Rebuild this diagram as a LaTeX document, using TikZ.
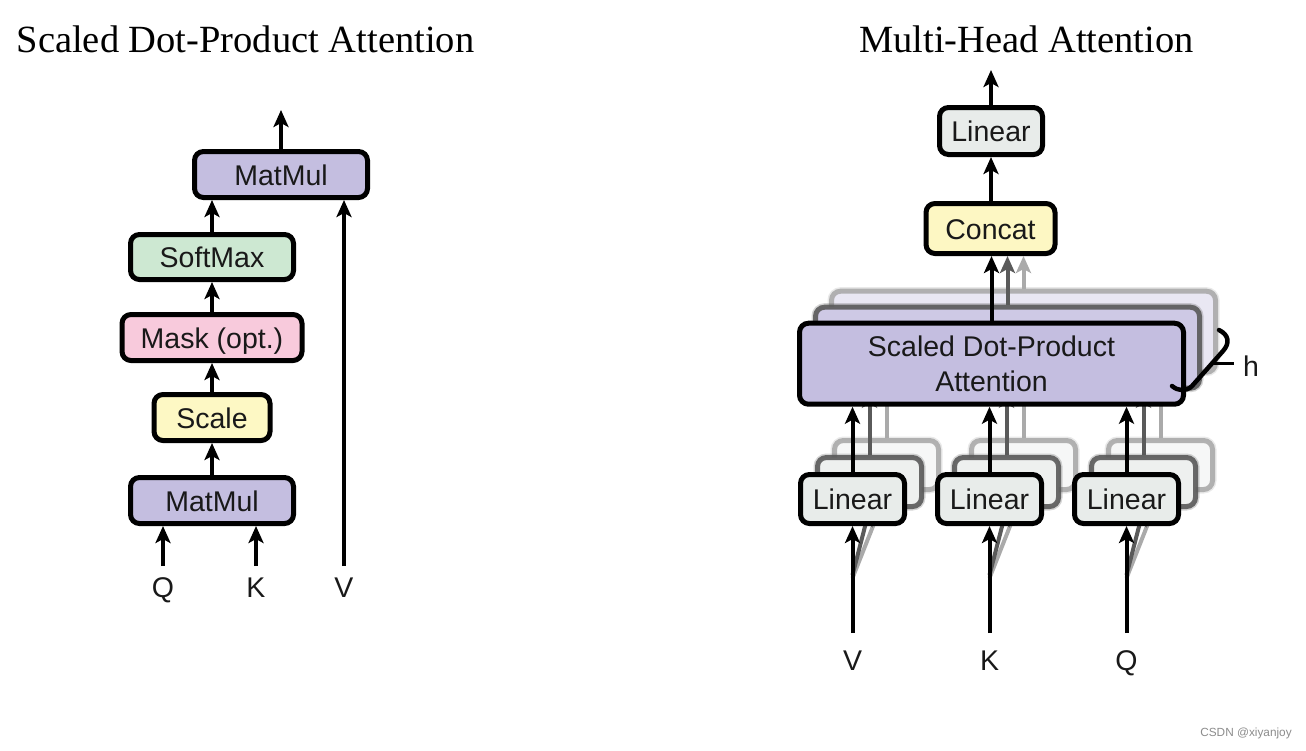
\documentclass[tikz,border=0pt]{standalone}
\usepackage{fontspec}
\setmainfont{Liberation Serif}
\newfontfamily\hv{Liberation Sans}
\usetikzlibrary{arrows.meta}
\definecolor{mmpurple}{RGB}{196,190,224}
\definecolor{smgreen}{RGB}{205,232,210}
\definecolor{mkpink}{RGB}{248,202,220}
\definecolor{scyellow}{RGB}{253,248,196}
\definecolor{lngrey}{RGB}{232,236,234}
\definecolor{ccyellow}{RGB}{253,247,195}
\definecolor{purpleB}{RGB}{206,201,229}
\definecolor{purpleC}{RGB}{233,231,243}
\definecolor{greyB}{RGB}{238,240,239}
\definecolor{greyC}{RGB}{246,247,247}
\definecolor{lineB}{RGB}{90,90,90}
\definecolor{lineC}{RGB}{170,170,170}
\begin{document}
\begin{tikzpicture}[x=1pt,y=-1pt,
  box/.style={draw=black, line width=5pt, rounded corners=9pt,
    font=\hv\fontsize{28.5}{35}\selectfont, text=black!90, inner sep=0pt,
    text height=21pt, text depth=0pt},
  layB/.style={draw=lineB, line width=5pt, rounded corners=9pt, draw opacity=0.9,
    inner sep=0pt, preaction={draw=lineB, draw opacity=0.25, line width=8pt}},
  layC/.style={draw=lineC, line width=5pt, rounded corners=9pt, draw opacity=0.9,
    inner sep=0pt, preaction={draw=lineC, draw opacity=0.25, line width=8pt}},
  arr/.style={line width=4pt, -{Stealth[length=17pt,width=15pt,inset=4pt]}},
  arrB/.style={arr, draw=lineB, color=lineB},
  arrC/.style={arr, draw=lineC, color=lineC},
  lbl/.style={font=\hv\fontsize{28.5}{35}\selectfont, text=black!90, inner sep=0pt, anchor=base},
  title/.style={font=\fontsize{38.5}{44}\selectfont, inner sep=0pt, anchor=base}
]
\useasboundingbox[fill=white] (0,0) rectangle (1306,750);

% ---------------- Titles ----------------
\node[title] (t1) at (245.5,52) {Scaled Dot-Product Attention};
\node[title] (t2) at (1026.5,52) {Multi-Head Attention};

% ---------------- Left: Scaled Dot-Product Attention ----------------
\node[box, fill=mmpurple, minimum width=163pt, minimum height=46pt] (mm1) at (212,500.5) {MatMul};
\node[box, fill=scyellow, minimum width=116pt, minimum height=46pt] (sc) at (212,417.5) {Scale};
\node[box, fill=mkpink, minimum width=180pt, minimum height=46pt] (mk) at (212,337.5) {Mask (opt.)};
\node[box, fill=smgreen, minimum width=163pt, minimum height=45pt] (sm) at (212,257) {SoftMax};
\node[box, fill=mmpurple, minimum width=173pt, minimum height=46pt] (mm2) at (281,174.5) {MatMul};

\node[lbl] (q) at (163,597) {Q};
\node[lbl] (k) at (256,597) {K};
\node[lbl] (v) at (344,597) {V};
\coordinate (qin) at (163,566);
\coordinate (kin) at (256,566);
\coordinate (vin) at (344,566);
\coordinate (out1) at (281,110);

\draw[arr] (qin) -- (qin |- mm1.south);
\draw[arr] (kin) -- (kin |- mm1.south);
\draw[arr] (vin) -- (vin |- mm2.south);
\draw[arr] (mm1.north) -- (mm1.north |- sc.south);
\draw[arr] (sc.north) -- (sc.north |- mk.south);
\draw[arr] (mk.north) -- (mk.north |- sm.south);
\draw[arr] (sm.north) -- (sm.north |- mm2.south);
\draw[arr] (mm2.north) -- (out1);

% ---------------- Right: Multi-Head Attention ----------------
\node[box, fill=ccyellow, minimum width=129pt, minimum height=50pt] (cc) at (990.5,228.5) {Concat};
\node[box, fill=lngrey, minimum width=103pt, minimum height=47pt] (ln) at (991,131) {Linear};
\coordinate (out2) at (991,70);

% layer C (back)
\node[layC, fill=purpleC, minimum width=384pt, minimum height=81pt] (sdC) at (1023.5,331.7) {};
\draw[arrC] (sdC.north) -- (sdC.north |- cc.south);
\foreach \n/\x in {A/852.5, B/989.5, C/1126.5}{
  \node[layC, fill=greyC, minimum width=104pt, minimum height=49pt] (linC\n) at (\x+34,465) {};
  \coordinate (dC\n) at (\x,578);
  \draw[arrC] (linC\n.north) -- (linC\n.north |- sdC.south);
  \draw[arrC] (dC\n) -- (linC\n.south);
}
% layer B (middle)
\node[layB, fill=purpleB, minimum width=384pt, minimum height=81pt] (sdB) at (1007.5,347.7) {};
\draw[arrB] (sdB.north) -- (sdB.north |- cc.south);
\foreach \n/\x in {A/852.5, B/989.5, C/1126.5}{
  \node[layB, fill=greyB, minimum width=104pt, minimum height=49pt] (linB\n) at (\x+17,482) {};
  \coordinate (dB\n) at (\x,575);
  \draw[arrB] (linB\n.north) -- (linB\n.north |- sdB.south);
  \draw[arrB] (dB\n) -- (linB\n.south);
}
% front layer
\node[box, fill=mmpurple, minimum width=384pt, minimum height=81pt, align=center,
      text height=, text depth=] (sd) at (991.5,363.7) {Scaled Dot-Product\\Attention};
\draw[arr] (sd.north) -- (sd.north |- cc.south);
\draw[arr] (ln.south |- cc.north) -- (ln.south);
\draw[arr] (ln.north) -- (out2);

\node[box, fill=lngrey, minimum width=104pt, minimum height=49pt] (linA) at (852.5,499) {Linear};
\node[box, fill=lngrey, minimum width=104pt, minimum height=49pt] (linB) at (989.5,499) {Linear};
\node[box, fill=lngrey, minimum width=104pt, minimum height=49pt] (linC) at (1126.5,499) {Linear};
\draw[arr] (linA.north) -- (linA.north |- sd.south);
\draw[arr] (linB.north) -- (linB.north |- sd.south);
\draw[arr] (linC.north) -- (linC.north |- sd.south);

\node[lbl] (vv) at (852.5,670) {V};
\node[lbl] (kk) at (989.5,670) {K};
\node[lbl] (qq) at (1126.5,670) {Q};
\coordinate (vvin) at (852.5,633);
\coordinate (kkin) at (989.5,633);
\coordinate (qqin) at (1126.5,633);
\draw[arr] (vvin) -- (linA.south);
\draw[arr] (kkin) -- (linB.south);
\draw[arr] (qqin) -- (linC.south);

% h brace
\draw[line width=4.5pt, line cap=round] (1219,330) .. controls (1229,335) and (1230,343) .. (1223,351)
   -- (1192,386) .. controls (1186,392) and (1178,391) .. (1172,386);
\coordinate (ht1) at (1211,363);
\node[lbl] (h) at (1251,376) {h};
\draw[line width=3pt] (ht1) -- (1234,363);

% watermark
\node[font=\hv\fontsize{11.8}{14}\selectfont, text=black!45, inner sep=0pt] (wm) at (1246,733) {CSDN @xiyanjoy};
\end{tikzpicture}
\end{document}
